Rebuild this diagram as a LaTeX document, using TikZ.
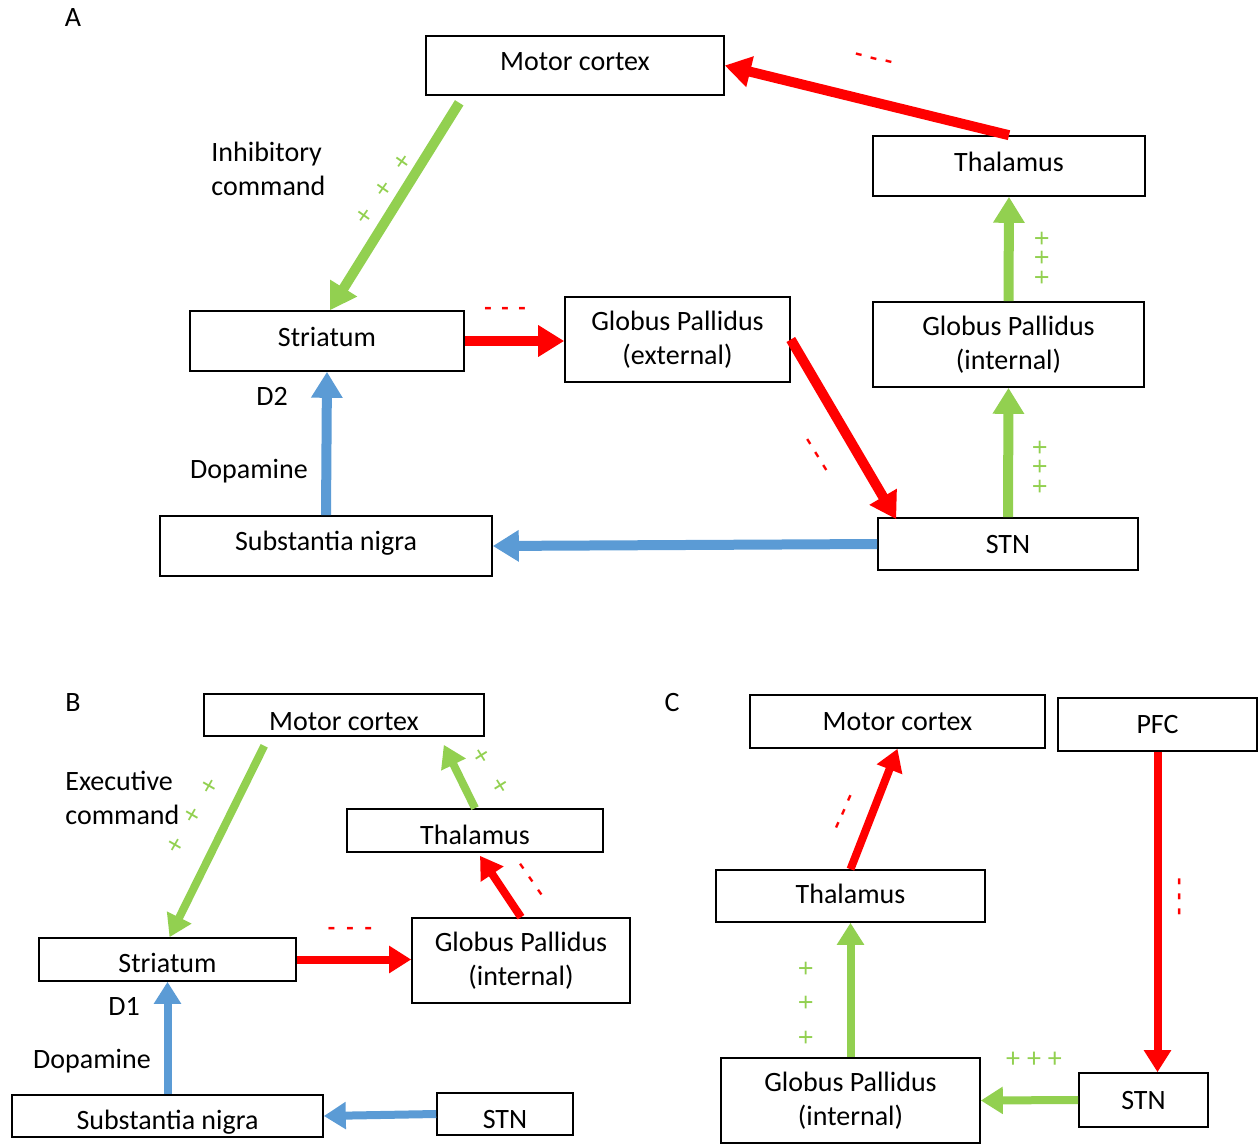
\documentclass[tikz,border=0pt]{standalone}
\usepackage{fontspec}
\setmainfont{Carlito}
\usetikzlibrary{calc,arrows.meta}
\definecolor{gr}{HTML}{92D050}
\definecolor{rd}{HTML}{FF0000}
\definecolor{bl}{HTML}{5B9BD5}
\def\trio#1#2{#1\hspace{#2}#1\hspace{#2}#1}

\begin{document}
\begin{tikzpicture}[x=0.5pt,y=-0.5pt,
		box/.style={draw, line width=0.8pt, inner sep=0pt, align=center, font=\fontsize{14}{17}\selectfont},
		tup/.style={text height=9pt, text depth=#1},
		tdn/.style={text height=#1, text depth=0pt},
		lbl/.style={inner sep=0pt, align=left, font=\fontsize{14}{17}\selectfont},
		arA/.style={line width=5pt, -{Triangle[length=13pt,width=15pt]}},
		arB/.style={line width=4pt, -{Triangle[length=11pt,width=13pt]}},
		plus/.style={text=gr, inner sep=0pt, font=\fontsize{14}{14}\selectfont},
		minus/.style={text=rd, inner sep=0pt, font=\bfseries\fontsize{12}{12}\selectfont}]
			%%%%% START %%%%%
			\useasboundingbox (0,0) rectangle (1259,1145);
			
			\node[lbl] (labA) at (73,18) {A};
			\node[lbl] (labB) at (73,703) {B};
			\node[lbl] (labC) at (672,703) {C};
			
			%%%%% A %%%%%
			\node[box, tup=4pt, minimum width=149pt, minimum height=29.5pt] (mcA) at (575,65.5) {Motor cortex};
			\node[box, tup=3.5pt, minimum width=136pt, minimum height=30pt] (thA) at (1009,166) {Thalamus};
			\node[box, tup=4pt, minimum width=137pt, minimum height=30pt] (stA) at (327,341) {Striatum};
			\node[box, minimum width=112.5pt, minimum height=42.5pt] (gpeA) at (677.5,339.5) {Globus Pallidus\\(external)};
			\node[box, minimum width=135.5pt, minimum height=42.5pt] (gpiA) at (1008.5,344.5) {Globus Pallidus\\(internal)};
			\node[box, tup=4.8pt, minimum width=166pt, minimum height=30pt] (snA) at (326,546) {Substantia nigra};
			\node[box, tup=0pt, minimum width=130pt, minimum height=26pt] (stnA) at (1008,544) {STN};
			
			\node[lbl, anchor=west] (cmdA) at (211,169) {Inhibitory\\command};
			\node[lbl] (d2) at (272,396) {D2};
			\node[lbl] (dopA) at (249,471) {Dopamine};
			
			\draw[arA, gr] ($(mcA.south west)+(34,7)$) -- ($(stA.north)+(3,0)$);
			\draw[arA, rd] (thA.north) -- (mcA.east);
			\draw[arA, gr] (gpiA.north) -- (thA.south);
			\draw[arA, gr] (stnA.north) -- (gpiA.south);
			\draw[arA, rd] (stA.east) -- (stA.east -| gpeA.west);
			\draw[arA, rd] (gpeA.east) -- ($(stnA.north west)+(19,2)$);
			\draw[arA, bl] (stnA.west) -- (snA.east);
			\draw[arA, bl] (snA.north) -- (stA.south);
			
			\node[minus, rotate=-14] (mA1) at (873,61) {\trio{-}{4pt}};
			\node[plus, rotate=55] (pA1) at (384,189) {\trio{+}{9.5pt}};
			\node[minus] (mA2) at (505,311) {\trio{-}{4.8pt}};
			\node[minus, rotate=-58] (mA3) at (815,456) {\trio{-}{4pt}};
			\node[plus, rotate=90] (pA2) at (1043,258) {\trio{+}{3pt}};
			\node[plus, rotate=90] (pA3) at (1041,467) {\trio{+}{3pt}};
			
			%%%%% B %%%%%
			\node[box, tdn=15pt, minimum width=140pt, minimum height=21pt] (mcB) at (344,715) {Motor cortex};
			\node[box, tdn=13.5pt, minimum width=128pt, minimum height=21.5pt] (thB) at (475,830.5) {Thalamus};
			\node[box, tdn=13pt, minimum width=128.5pt, minimum height=21.5pt] (stB) at (167.5,959.5) {Striatum};
			\node[box, minimum width=109pt, minimum height=42.5pt] (gpiB) at (521,960.5) {Globus Pallidus\\(internal)};
			\node[box, tdn=13.2pt, minimum width=155.5pt, minimum height=21pt] (snB) at (167.5,1116) {Substantia nigra};
			\node[box, tdn=14pt, minimum width=68pt, minimum height=21pt] (stnB) at (505,1114) {STN};
			
			\node[lbl, anchor=west] (cmdB) at (65,798) {Executive\\command};
			\node[lbl] (d1) at (124,1006) {D1};
			\node[lbl] (dopB) at (92,1061) {Dopamine};
			
			\draw[arB, gr] ($(mcB.south west)+(61,9)$) -- ($(stB.north)+(2,0)$);
			\draw[arB, gr] (thB.north) -- ($(mcB.south east)+(-41,8)$);
			\draw[arB, rd] (gpiB.north) -- ($(thB.south)+(5,3)$);
			\draw[arB, rd] (stB.east) -- (stB.east -| gpiB.west);
			\draw[arB, bl] (snB.north) -- (stB.south);
			\draw[arB, bl] (stnB.west) -- (snB.east);
			
			\node[plus, rotate=60] (pB1) at (193,816) {\trio{+}{10pt}};
			\node[plus, rotate=-58] (pB2) at (490,771.5) {+\hspace{10.5pt}+};
			\node[minus, rotate=-55] (mB1) at (529,881) {\trio{-}{4.3pt}};
			\node[minus] (mB2) at (350,931) {\trio{-}{5.5pt}};
			
			%%%%% C %%%%%
			\node[box, tup=0pt, minimum width=147.5pt, minimum height=26.5pt] (mcC) at (897.5,721.5) {Motor cortex};
			\node[box, tup=0pt, minimum width=99.5pt, minimum height=26.5pt] (pfcC) at (1157.5,724.5) {PFC};
			\node[box, tup=2pt, minimum width=134.5pt, minimum height=26pt] (thC) at (850.5,896) {Thalamus};
			\node[box, minimum width=129.5pt, minimum height=42.5pt] (gpiC) at (850.5,1100.5) {Globus Pallidus\\(internal)};
			\node[box, tup=0pt, minimum width=64.5pt, minimum height=27pt] (stnC) at (1143.5,1100) {STN};
			
			\draw[arB, rd] (thC.north) -- (mcC.south);
			\draw[arB, rd] (pfcC.south) -- (pfcC.south |- stnC.north);
			\draw[arB, gr] (gpiC.north) -- (thC.south);
			\draw[arB, gr] (stnC.west) -- (gpiC.east);
			
			\node[minus, rotate=66] (mC1) at (846,813) {\trio{-}{3.5pt}};
			\node[minus, rotate=90] (mC2) at (1182,897) {\trio{-}{3.8pt}};
			\node[plus, rotate=90] (pC1) at (807,1003) {\trio{+}{10.5pt}};
			\node[plus] (pC2) at (1034,1060) {\trio{+}{3.5pt}};
			%%%%% END %%%%%
\end{tikzpicture}
\end{document}
